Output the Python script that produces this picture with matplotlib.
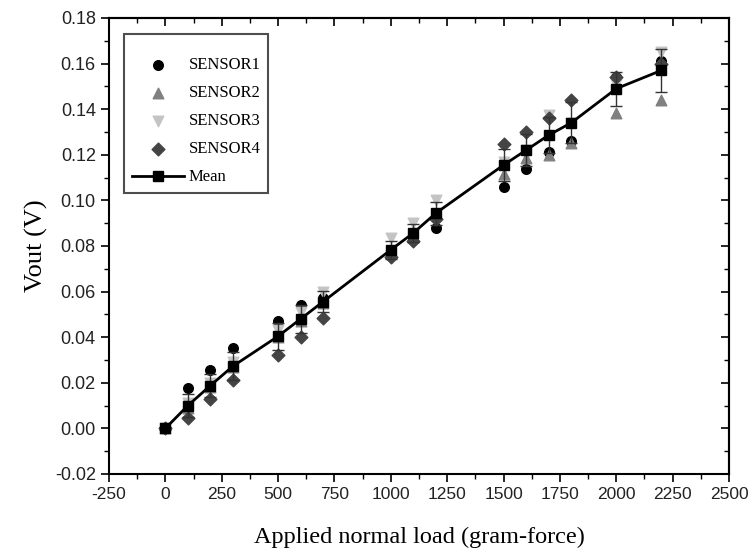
import matplotlib
matplotlib.use("Agg")
import matplotlib.pyplot as plt
from matplotlib.ticker import MultipleLocator, FormatStrFormatter
from matplotlib.lines import Line2D

loads = [0, 100, 200, 300, 500, 600, 700, 1000, 1100, 1200, 1500, 1600, 1700, 1800, 2000, 2200]
sensor1 = [0, 0.0175, 0.0254, 0.0354, 0.047, 0.054, 0.057, 0.078, 0.083, 0.088, 0.106, 0.1137, 0.121, 0.126, 0.154, 0.161]
sensor2 = [0, 0.009, 0.018, 0.027, 0.040, 0.047, 0.055, 0.077, 0.084, 0.094, 0.1115, 0.1186, 0.120, 0.125, 0.1385, 0.144]
sensor3 = [0, 0.011, 0.020, 0.029, 0.043, 0.051, 0.060, 0.0835, 0.090, 0.100, 0.117, 0.122, 0.1375, 0.134, 0.151, 0.165]
sensor4 = [0, 0.0044, 0.0127, 0.0214, 0.0324, 0.040, 0.0486, 0.075, 0.082, 0.092, 0.1247, 0.130, 0.136, 0.144, 0.154, 0.160]
mean = [0, 0.010, 0.0188, 0.0273, 0.0404, 0.048, 0.0556, 0.0783, 0.0857, 0.0944, 0.1155, 0.122, 0.1286, 0.134, 0.149, 0.157]
err = [0.0005, 0.005, 0.005, 0.006, 0.006, 0.006, 0.0045, 0.004, 0.004, 0.005, 0.007, 0.007, 0.008, 0.009, 0.0075, 0.0095]
labels = ["SENSOR1", "SENSOR2", "SENSOR3", "SENSOR4", "Mean"]

serif = ["Liberation Serif", "DejaVu Serif"]
sans = ["Liberation Sans", "DejaVu Sans"]

fig = plt.figure(figsize=(7.49, 5.53), dpi=100)
ax = fig.add_axes([0.1455, 0.1429, 0.8278, 0.8246])

h1 = ax.scatter(loads, sensor1, marker="o", s=48, color="black", zorder=3)
h2 = ax.scatter(loads, sensor2, marker="^", s=58, color="#808080", zorder=3)
h3 = ax.scatter(loads, sensor3, marker="v", s=58, color="#c4c4c4", zorder=3)
h4 = ax.scatter(loads, sensor4, marker="D", s=42, color="#444444", zorder=3)
ax.errorbar(loads, mean, yerr=err, color="black", lw=2, marker="s", ms=7,
            ecolor="#333333", elinewidth=1, capsize=4, capthick=1, zorder=4)
hm = Line2D([], [], color="black", lw=2, marker="s", ms=7)

ax.set_xlim(-250, 2500)
ax.set_ylim(-0.02, 0.18)
ax.xaxis.set_major_locator(MultipleLocator(250))
ax.xaxis.set_minor_locator(MultipleLocator(125))
ax.yaxis.set_major_locator(MultipleLocator(0.02))
ax.yaxis.set_minor_locator(MultipleLocator(0.01))
ax.yaxis.set_major_formatter(FormatStrFormatter("%.2f"))
ax.xaxis.set_major_formatter(FormatStrFormatter("%d"))

ax.tick_params(which="major", direction="out", length=6, width=1.2)
ax.tick_params(which="minor", direction="out", length=3.5, width=1.0)
ax.tick_params(axis="x", labelsize=12.5)
ax.tick_params(axis="y", labelsize=13)
for lab in ax.get_xticklabels() + ax.get_yticklabels():
    lab.set_family(sans)
    lab.set_color("#222222")

secx = ax.secondary_xaxis("top")
secx.xaxis.set_major_locator(MultipleLocator(250))
secx.xaxis.set_minor_locator(MultipleLocator(125))
secx.tick_params(which="major", direction="in", length=6, width=1.2, labeltop=False)
secx.tick_params(which="minor", direction="in", length=3.5, width=1.0)
secy = ax.secondary_yaxis("right")
secy.yaxis.set_major_locator(MultipleLocator(0.02))
secy.yaxis.set_minor_locator(MultipleLocator(0.01))
secy.tick_params(which="major", direction="in", length=6, width=1.2, labelright=False)
secy.tick_params(which="minor", direction="in", length=3.5, width=1.0)

for sp in ax.spines.values():
    sp.set_linewidth(1.5)
secx.spines["top"].set_linewidth(1.5)
secy.spines["right"].set_linewidth(1.5)

ax.set_xlabel("Applied normal load (gram-force)", fontsize=17.5, family=serif, labelpad=18)
ax.set_ylabel("Vout (V)", fontsize=19, family=serif, labelpad=5)

leg = ax.legend([h1, h2, h3, h4, hm], labels, loc="upper left", bbox_to_anchor=(0.025, 0.965),
                prop={"family": serif, "size": 12}, title=" ", title_fontsize=2.5,
                frameon=True, fancybox=False, edgecolor="#222222", borderpad=0.45,
                labelspacing=0.72, handletextpad=0.3, handlelength=3.1, borderaxespad=0)
leg.get_frame().set_linewidth(1.5)

fig.savefig("out.png", dpi=100)
